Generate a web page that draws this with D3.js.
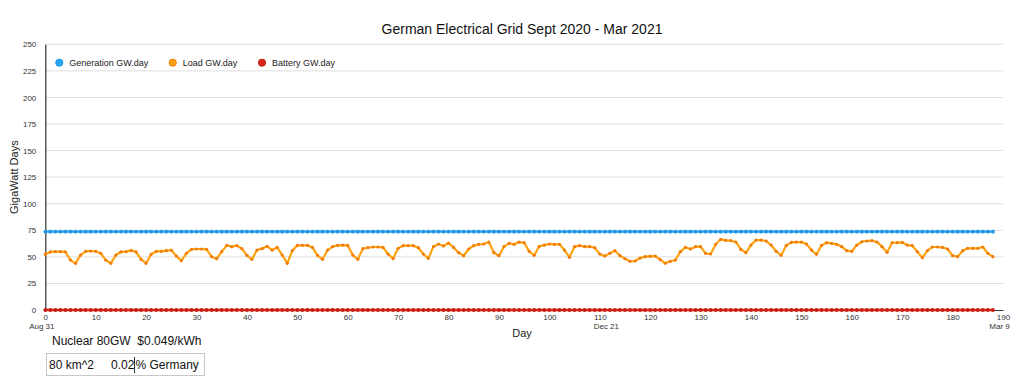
<!DOCTYPE html>
<html>
<head>
<meta charset="utf-8">
<script src="https://cdnjs.cloudflare.com/ajax/libs/d3/7.8.5/d3.min.js"></script>
<style>
  body { margin: 0; background: #fff; }
  svg { font-family: "Liberation Sans", Arial, sans-serif; }
</style>
</head>
<body>
<svg width="1022" height="379"></svg>
<script>
// Load GW.day, one value per day from Aug 31 (day 0)
var load = [
  52.4, 54.6, 54.9, 54.9, 54.6, 47.0, 43.9, 51.7, 55.2, 55.5,
  55.2, 53.3, 47.0, 43.9, 51.7, 54.6, 54.9, 56.1, 54.6, 47.7,
  43.9, 52.4, 55.2, 55.2, 55.8, 56.4, 50.7, 46.4, 53.3, 57.1,
  57.4, 57.4, 57.1, 50.2, 48.3, 54.9, 60.8, 59.6, 60.5, 57.7,
  51.4, 47.7, 56.4, 57.7, 59.9, 56.4, 58.9, 51.7, 43.9, 55.8,
  60.8, 60.8, 60.8, 58.9, 51.4, 47.7, 56.4, 59.6, 60.8, 61.1,
  60.8, 51.7, 47.7, 57.7, 58.6, 59.3, 59.3, 58.9, 52.7, 48.3,
  58.0, 60.5, 60.5, 60.5, 58.6, 52.7, 48.6, 59.6, 62.1, 60.2,
  63.0, 58.9, 53.9, 51.1, 57.4, 60.5, 61.8, 62.1, 63.9, 53.9,
  51.1, 59.6, 62.7, 61.8, 63.9, 63.3, 55.2, 51.4, 59.9, 61.1,
  62.1, 61.8, 61.8, 56.4, 49.6, 59.6, 60.5, 59.6, 59.6, 58.6,
  52.7, 50.8, 53.3, 55.8, 51.1, 48.3, 45.8, 46.1, 48.9, 50.2,
  50.5, 50.8, 47.4, 44.0, 45.8, 47.0, 54.9, 58.9, 57.4, 59.6,
  59.6, 53.3, 52.7, 61.8, 66.5, 65.5, 65.2, 64.0, 57.1, 53.9,
  61.1, 65.8, 65.8, 64.9, 61.1, 55.2, 51.4, 60.8, 63.6, 63.9,
  63.9, 62.1, 56.4, 52.4, 60.8, 63.3, 62.7, 61.8, 59.6, 55.8,
  55.2, 61.1, 64.2, 64.9, 65.2, 64.0, 59.6, 54.3, 63.3, 63.3,
  63.6, 61.1, 60.5, 54.9, 49.2, 55.8, 59.3, 59.3, 58.9, 57.4,
  51.1, 50.2, 55.8, 58.0, 58.0, 58.0, 59.3, 53.3, 50.2
];

// Generation GW.day (flat nuclear output)
var generation = [
  73.7, 73.7, 73.7, 73.7, 73.7, 73.7, 73.7, 73.7, 73.7, 73.7,
  73.7, 73.7, 73.7, 73.7, 73.7, 73.7, 73.7, 73.7, 73.7, 73.7,
  73.7, 73.7, 73.7, 73.7, 73.7, 73.7, 73.7, 73.7, 73.7, 73.7,
  73.7, 73.7, 73.7, 73.7, 73.7, 73.7, 73.7, 73.7, 73.7, 73.7,
  73.7, 73.7, 73.7, 73.7, 73.7, 73.7, 73.7, 73.7, 73.7, 73.7,
  73.7, 73.7, 73.7, 73.7, 73.7, 73.7, 73.7, 73.7, 73.7, 73.7,
  73.7, 73.7, 73.7, 73.7, 73.7, 73.7, 73.7, 73.7, 73.7, 73.7,
  73.7, 73.7, 73.7, 73.7, 73.7, 73.7, 73.7, 73.7, 73.7, 73.7,
  73.7, 73.7, 73.7, 73.7, 73.7, 73.7, 73.7, 73.7, 73.7, 73.7,
  73.7, 73.7, 73.7, 73.7, 73.7, 73.7, 73.7, 73.7, 73.7, 73.7,
  73.7, 73.7, 73.7, 73.7, 73.7, 73.7, 73.7, 73.7, 73.7, 73.7,
  73.7, 73.7, 73.7, 73.7, 73.7, 73.7, 73.7, 73.7, 73.7, 73.7,
  73.7, 73.7, 73.7, 73.7, 73.7, 73.7, 73.7, 73.7, 73.7, 73.7,
  73.7, 73.7, 73.7, 73.7, 73.7, 73.7, 73.7, 73.7, 73.7, 73.7,
  73.7, 73.7, 73.7, 73.7, 73.7, 73.7, 73.7, 73.7, 73.7, 73.7,
  73.7, 73.7, 73.7, 73.7, 73.7, 73.7, 73.7, 73.7, 73.7, 73.7,
  73.7, 73.7, 73.7, 73.7, 73.7, 73.7, 73.7, 73.7, 73.7, 73.7,
  73.7, 73.7, 73.7, 73.7, 73.7, 73.7, 73.7, 73.7, 73.7, 73.7,
  73.7, 73.7, 73.7, 73.7, 73.7, 73.7, 73.7, 73.7, 73.7
];

// Battery GW.day (empty the whole period)
var battery = [
  0, 0, 0, 0, 0, 0, 0, 0, 0, 0, 0, 0, 0, 0, 0, 0, 0, 0, 0, 0,
  0, 0, 0, 0, 0, 0, 0, 0, 0, 0, 0, 0, 0, 0, 0, 0, 0, 0, 0, 0,
  0, 0, 0, 0, 0, 0, 0, 0, 0, 0, 0, 0, 0, 0, 0, 0, 0, 0, 0, 0,
  0, 0, 0, 0, 0, 0, 0, 0, 0, 0, 0, 0, 0, 0, 0, 0, 0, 0, 0, 0,
  0, 0, 0, 0, 0, 0, 0, 0, 0, 0, 0, 0, 0, 0, 0, 0, 0, 0, 0, 0,
  0, 0, 0, 0, 0, 0, 0, 0, 0, 0, 0, 0, 0, 0, 0, 0, 0, 0, 0, 0,
  0, 0, 0, 0, 0, 0, 0, 0, 0, 0, 0, 0, 0, 0, 0, 0, 0, 0, 0, 0,
  0, 0, 0, 0, 0, 0, 0, 0, 0, 0, 0, 0, 0, 0, 0, 0, 0, 0, 0, 0,
  0, 0, 0, 0, 0, 0, 0, 0, 0, 0, 0, 0, 0, 0, 0, 0, 0, 0, 0, 0,
  0, 0, 0, 0, 0, 0, 0, 0, 0
];

var seriesNames = ["Generation GW.day", "Load GW.day", "Battery GW.day"];
var yTicks = [0, 25, 50, 75, 100, 125, 150, 175, 200, 225, 250];
var xTicks = [0, 10, 20, 30, 40, 50, 60, 70, 80, 90, 100, 110, 120, 130, 140, 150, 160, 170, 180, 190];
var dateTicks = [0, 112, 190];
var dateLabels = ["Aug 31", "Dec 21", "Mar 9"];
var title = "German Electrical Grid Sept 2020 - Mar 2021";
var footLine = "Nuclear 80GW  $0.049/kWh";
var boxArea = "80 km^2";
var boxShare = "0.02";
var boxUnit = "% Germany";

var colors = {
  line: ["#2aa6f5", "#ffa20f", "#d8261a"],
  dot: ["#1d95e8", "#f07d0a", "#c81e12"]
};

var svg = d3.select("svg"),
  margin = {top: 44.3, right: 19, bottom: 69, left: 45.3},
  width = +svg.attr("width") - margin.left - margin.right,
  height = +svg.attr("height") - margin.top - margin.bottom,
  g = svg.append("g")
    .attr("transform", "translate(" + margin.left + "," + margin.top + ")");

var x = d3.scaleLinear().domain([0, 190]).range([0, width]);
var y = d3.scaleLinear().domain([0, 250]).range([height, 0]);

// title
svg.append("text")
  .attr("x", 522).attr("y", 34)
  .attr("text-anchor", "middle")
  .style("font-size", "14px")
  .style("fill", "#111")
  .text(title);

// gridlines
g.append("g")
  .selectAll("line")
  .data(yTicks.filter(function(t) { return t > 0; }))
  .enter().append("line")
  .attr("x1", 0).attr("x2", width)
  .attr("y1", function(d) { return y(d); })
  .attr("y2", function(d) { return y(d); })
  .attr("stroke", "#dedede")
  .attr("stroke-width", 1);

// y axis
var yAxis = g.append("g")
  .call(d3.axisLeft(y).tickValues(yTicks).tickSize(0).tickSizeOuter(0).tickPadding(9));
yAxis.select(".domain").attr("stroke", "#333").attr("stroke-width", 1.2);
yAxis.selectAll("text").style("font-size", "8px").style("fill", "#333")
  .style("font-family", "Liberation Sans, Arial, sans-serif");

// x axis
var xAxis = g.append("g")
  .attr("transform", "translate(0," + height + ")")
  .call(d3.axisBottom(x).tickValues(xTicks).tickSize(0).tickSizeOuter(0).tickPadding(4));
xAxis.select(".domain").attr("stroke", "#333").attr("stroke-width", 1.2);
xAxis.selectAll("text").style("font-size", "8px").style("fill", "#333")
  .style("font-family", "Liberation Sans, Arial, sans-serif");

// date labels under the day ticks
var dAxis = g.append("g")
  .attr("transform", "translate(0," + (height + 9) + ")")
  .call(d3.axisBottom(x).tickValues(dateTicks).tickSize(0).tickSizeOuter(0).tickPadding(4)
    .tickFormat(function(d, i) { return dateLabels[i]; }));
dAxis.select(".domain").remove();
dAxis.selectAll("text").attr("dx", -4).style("font-size", "8px").style("fill", "#333")
  .style("font-family", "Liberation Sans, Arial, sans-serif");

// axis titles
svg.append("text")
  .attr("transform", "translate(18," + (margin.top + height / 2) + ") rotate(-90)")
  .attr("text-anchor", "middle")
  .style("font-size", "11px")
  .style("fill", "#222")
  .text("GigaWatt Days");

svg.append("text")
  .attr("x", 522).attr("y", 337)
  .attr("text-anchor", "middle")
  .style("font-size", "11px")
  .style("fill", "#222")
  .text("Day");

// series
var allSeries = [generation, load, battery];
allSeries.forEach(function(vals, i) {
  var line = d3.line()
    .x(function(d, k) { return x(k); })
    .y(function(d) { return y(d); });

  g.append("path")
    .datum(vals)
    .attr("fill", "none")
    .attr("stroke", colors.line[i])
    .attr("stroke-width", i == 1 ? 2.2 : 2.4)
    .attr("stroke-linejoin", "round")
    .attr("d", line);

  g.append("g")
    .selectAll("circle")
    .data(vals)
    .enter().append("circle")
    .attr("cx", function(d, k) { return x(k); })
    .attr("cy", function(d) { return y(d); })
    .attr("r", i == 1 ? 1.6 : 1.9)
    .attr("fill", colors.dot[i]);
});

// legend
var legendX = [59.3, 172.7, 262];
var leg = svg.append("g").selectAll("g")
  .data(seriesNames)
  .enter().append("g")
  .attr("transform", function(d, i) { return "translate(" + legendX[i] + ",62.7)"; });
leg.append("circle")
  .attr("r", 3.6)
  .attr("fill", function(d, i) { return colors.line[i]; })
  .attr("stroke", function(d, i) { return colors.dot[i]; })
  .attr("stroke-width", 1);
leg.append("text")
  .attr("x", 10).attr("dy", "0.35em")
  .style("font-size", "9px")
  .style("fill", "#222")
  .text(function(d) { return d; });

// footer text and box
svg.append("text")
  .attr("x", 52).attr("y", 345)
  .style("font-size", "12px")
  .style("fill", "#111")
  .style("white-space", "pre")
  .attr("xml:space", "preserve")
  .text(footLine);

svg.append("rect")
  .attr("x", 46.5).attr("y", 353.5)
  .attr("width", 158).attr("height", 22)
  .attr("fill", "#fff")
  .attr("stroke", "#c8c8c8");

svg.append("text")
  .attr("x", 49).attr("y", 369)
  .style("font-size", "12px").style("fill", "#111")
  .text(boxArea);
svg.append("text")
  .attr("x", 111).attr("y", 369)
  .style("font-size", "12px").style("fill", "#111")
  .text(boxShare);
svg.append("line")
  .attr("x1", 134.5).attr("x2", 134.5)
  .attr("y1", 357).attr("y2", 373)
  .attr("stroke", "#333");
svg.append("text")
  .attr("x", 135.5).attr("y", 369)
  .style("font-size", "12px").style("fill", "#111")
  .text(boxUnit);
</script>
</body>
</html>
